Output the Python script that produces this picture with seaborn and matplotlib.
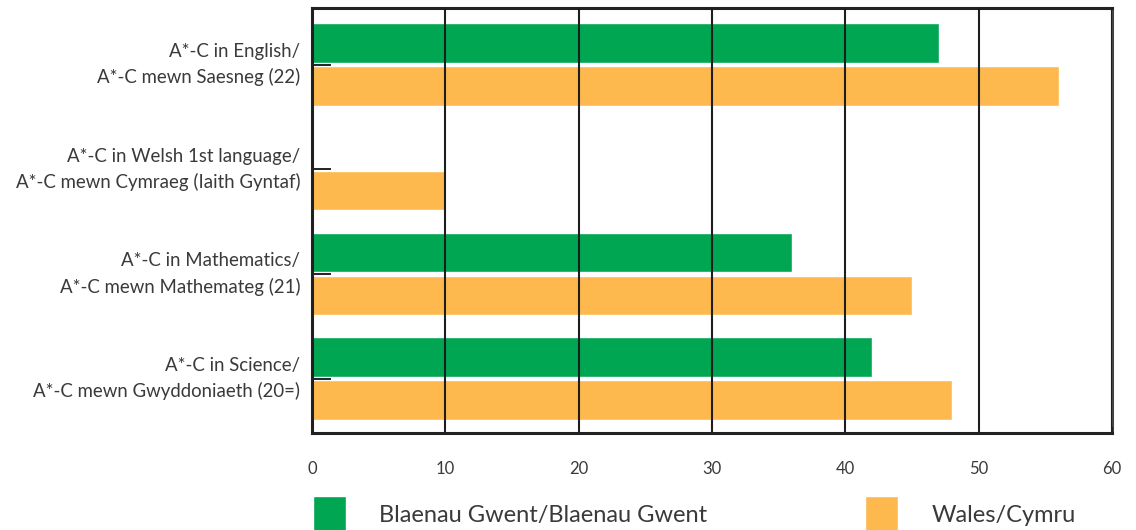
import matplotlib
matplotlib.use('Agg')
import matplotlib.pyplot as plt
import numpy as np
import pandas as pd
import seaborn as sns

# chart data
categories = [
    'A*-C in English/\nA*-C mewn Saesneg (22)',
    'A*-C in Welsh 1st language/\nA*-C mewn Cymraeg (Iaith Gyntaf)',
    'A*-C in Mathematics/\nA*-C mewn Mathemateg (21)',
    'A*-C in Science/\nA*-C mewn Gwyddoniaeth (20=)',
]
series_names = ['Blaenau Gwent/Blaenau Gwent', 'Wales/Cymru']
blaenau_gwent = [47, np.nan, 36, 42]
wales = [56, 10, 45, 48]
x_ticks = [0, 10, 20, 30, 40, 50, 60]

GREEN = '#00a651'
ORANGE = '#fdb94e'
TEXT = '#3a3a3a'


def build_frame():
    rows = []
    for cat, a, b in zip(categories, blaenau_gwent, wales):
        rows.append((cat, series_names[0], a))
        rows.append((cat, series_names[1], b))
    return pd.DataFrame(rows, columns=['category', 'area', 'value'])


def draw(df):
    sns.set_theme(style='white')
    plt.rcParams['font.family'] = ['Lato', 'DejaVu Sans']

    fig = plt.figure(figsize=(11.36, 5.30), dpi=100)
    ax = fig.add_axes([312 / 1136, 1 - 433 / 530, 800 / 1136, 425 / 530])

    sns.barplot(data=df, y='category', x='value', hue='area', order=categories,
                hue_order=series_names, palette=[GREEN, ORANGE], orient='h',
                width=0.82, gap=0.08, saturation=1, legend=True, ax=ax, errorbar=None)

    ax.set_xlim(0, 60)
    ax.set_ylim(3.52, -0.54)
    ax.set_xticks(x_ticks)
    ax.set_xlabel(''); ax.set_ylabel('')

    # vertical gridlines drawn over the bars
    ax.set_axisbelow(False)
    ax.xaxis.grid(True, color='#1e1e1e', linewidth=1.5)
    ax.yaxis.grid(False)

    for s in ax.spines.values():
        s.set_visible(True)
        s.set_color('#222222')
        s.set_linewidth(2.2)
    ax.spines['right'].set_color('#444444')

    ax.tick_params(axis='y', direction='in', length=14, width=1.4, color='#222222',
                   pad=8.5, labelsize=13.4, labelcolor=TEXT, left=True)
    ax.tick_params(axis='x', direction='in', length=4, width=1.4, color='#222222',
                   pad=20, labelsize=12, labelcolor=TEXT, bottom=True)
    for lbl in ax.get_yticklabels():
        lbl.set_linespacing(1.55)
        lbl.set_ha('right')
        lbl.set_va('center')

    handles, labels = ax.get_legend_handles_labels()
    if ax.legend_:
        ax.legend_.remove()
    fig.legend(handles, labels, loc='upper left', bbox_to_anchor=(313 / 1136, 1 - 496 / 530),
               ncol=2, frameon=False, fontsize=17, handlelength=1.4, handleheight=2.0,
               handletextpad=1.4, columnspacing=6.7, borderpad=0, borderaxespad=0,
               labelcolor=TEXT)

    fig.savefig('out.png', dpi=100)
    plt.close(fig)


def main():
    df = build_frame()
    draw(df)


if __name__ == '__main__':
    main()
